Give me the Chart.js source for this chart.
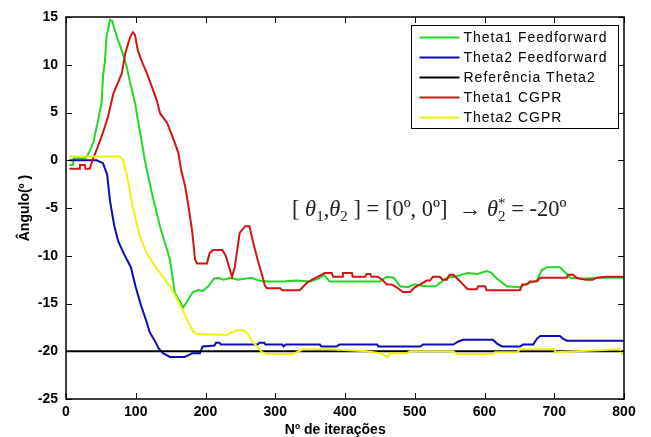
<!DOCTYPE html>
<html>
<head>
<meta charset="utf-8">
<script src="https://cdn.jsdelivr.net/npm/chart.js@4.4.0/dist/chart.umd.min.js"></script>
<style>
  html, body { margin: 0; padding: 0; background: #fff; }
  canvas { display: block; }
</style>
</head>
<body>
<canvas id="angleChart" width="651" height="437"></canvas>
<script>
// Theta1 Feedforward (green)
const theta1FfX = [5, 10, 11, 28, 33, 39, 46, 51, 53, 56, 58, 63, 66, 73, 80, 87, 92, 99, 103, 109, 113, 123, 135, 149, 156, 168, 175, 182, 190, 196, 204, 212, 218, 226, 236, 246, 256, 266, 276, 290, 310, 330, 350, 362, 370, 378, 400, 425, 450, 460, 470, 479, 490, 500, 515, 530, 546, 556, 566, 576, 590, 603, 610, 618, 632, 651, 658, 675, 682, 690, 708, 715, 723, 740, 760, 800];
const theta1FfY = [-0.5, -0.5, 0.2, 0.2, 0.8, 1.8, 4.2, 6.0, 8.7, 10.5, 12.9, 14.7, 14.6, 12.9, 11.5, 9.8, 8.1, 6.0, 4.2, 1.8, 0, -3.4, -7.0, -10.4, -13.9, -15.4, -14.6, -13.8, -13.6, -13.7, -13.2, -12.4, -12.3, -12.5, -12.3, -12.5, -12.4, -12.3, -12.6, -12.7, -12.7, -12.6, -12.7, -12.4, -12.0, -12.7, -12.7, -12.7, -12.7, -12.2, -12.3, -13.2, -13.3, -13.0, -13.2, -13.2, -12.3, -12.2, -12.0, -11.8, -11.9, -11.6, -11.8, -12.4, -13.2, -13.3, -13.0, -12.6, -11.5, -11.2, -11.2, -11.7, -12.3, -12.4, -12.3, -12.3];

// Theta2 Feedforward (blue)
const theta2FfX = [5, 44, 53, 59, 63, 69, 75, 83, 93, 100, 108, 115, 120, 128, 133, 139, 149, 170, 176, 181, 192, 196, 213, 215, 220, 222, 275, 277, 284, 286, 310, 312, 315, 364, 366, 388, 392, 446, 448, 508, 512, 555, 562, 569, 612, 618, 625, 651, 655, 670, 675, 680, 708, 713, 718, 800];
const theta2FfY = [0, 0, -0.3, -1.5, -4.2, -6.8, -8.5, -9.8, -11.2, -13.3, -15.3, -16.8, -18.0, -19.0, -19.7, -20.2, -20.6, -20.6, -20.4, -20.2, -20.2, -19.5, -19.4, -19.1, -19.1, -19.3, -19.3, -19.1, -19.1, -19.3, -19.3, -19.5, -19.3, -19.3, -19.5, -19.5, -19.3, -19.3, -19.5, -19.5, -19.3, -19.3, -19.0, -18.8, -18.8, -19.2, -19.5, -19.5, -19.3, -19.3, -18.7, -18.4, -18.4, -18.7, -18.9, -18.9];

// Referencia Theta2 (black)
const refX = [0, 800];
const refY = [-20, -20];

// Theta1 CGPR (red)
const theta1CgX = [5, 19, 20, 27, 28, 34, 38, 44, 53, 60, 68, 75, 80, 85, 92, 96, 99, 103, 109, 116, 123, 130, 135, 145, 153, 161, 165, 171, 176, 181, 185, 188, 202, 206, 211, 224, 229, 238, 242, 249, 257, 263, 268, 275, 281, 285, 288, 307, 310, 335, 346, 353, 366, 371, 381, 383, 396, 397, 410, 411, 429, 431, 436, 438, 447, 453, 460, 467, 474, 483, 493, 500, 508, 517, 522, 526, 536, 540, 546, 550, 555, 560, 569, 576, 589, 591, 601, 603, 651, 654, 661, 665, 675, 680, 718, 720, 727, 732, 745, 755, 761, 775, 800];
const theta1CgY = [-0.9, -0.9, -0.5, -0.5, -0.9, -0.9, 0, 1.1, 2.9, 4.5, 7.0, 8.2, 9.1, 11.2, 12.9, 13.4, 13.1, 11.5, 10.3, 9.1, 7.7, 6.3, 4.9, 3.9, 2.4, 0.8, -1.0, -2.8, -5.0, -7.5, -10.4, -10.8, -10.8, -9.7, -9.4, -9.4, -10.0, -12.2, -11.2, -7.6, -6.9, -6.9, -8.5, -10.5, -12.0, -13.1, -13.4, -13.4, -13.6, -13.6, -12.8, -12.5, -12.0, -11.8, -11.8, -12.2, -12.2, -11.8, -11.8, -12.2, -12.2, -11.9, -11.9, -12.2, -12.2, -12.5, -13.0, -13.0, -13.3, -13.8, -13.8, -13.3, -13.0, -12.6, -12.6, -12.2, -12.2, -12.5, -12.5, -12.0, -12.0, -12.3, -13.0, -13.5, -13.5, -13.2, -13.2, -13.6, -13.6, -13.0, -13.0, -12.7, -12.7, -12.3, -12.3, -12.0, -12.0, -12.3, -12.5, -12.5, -12.3, -12.2, -12.2];

// Theta2 CGPR (yellow)
const theta2CgX = [5, 77, 82, 87, 96, 106, 116, 125, 135, 149, 159, 168, 175, 182, 188, 231, 235, 245, 254, 260, 267, 274, 281, 288, 325, 331, 340, 378, 431, 450, 462, 464, 489, 493, 555, 560, 612, 615, 647, 651, 700, 702, 794, 797, 800];
const theta2CgY = [0.4, 0.4, 0, -1.5, -5.0, -8.0, -9.8, -10.8, -11.8, -13.2, -14.5, -15.8, -16.9, -17.9, -18.2, -18.3, -18.1, -17.8, -17.8, -18.1, -19.0, -19.5, -20.1, -20.3, -20.3, -20.1, -19.8, -19.8, -20.0, -20.2, -20.6, -20.2, -20.2, -20.0, -20.0, -20.3, -20.3, -20.1, -20.1, -19.8, -19.8, -20.1, -19.8, -20.3, -20.3];

const seriesLabels = ['Theta1 Feedforward', 'Theta2 Feedforward', 'Referência Theta2', 'Theta1 CGPR', 'Theta2 CGPR'];
const seriesColors = ['#22d822', '#0c0cb4', '#000000', '#d21414', '#f0f010'];
const seriesX = [theta1FfX, theta2FfX, refX, theta1CgX, theta2CgX];
const seriesY = [theta1FfY, theta2FfY, refY, theta1CgY, theta2CgY];

function toPoints(xs, ys) {
    return xs.map((x, i) => ({ x: x, y: ys[i] }));
}

// box around the plot area + inward ticks on all four sides (matlab style)
const framePlugin = {
    id: 'frame',
    afterDatasetsDraw(chart) {
        const { ctx, chartArea: a, scales } = chart;
        ctx.save();
        ctx.strokeStyle = '#000';
        ctx.lineWidth = 1;
        ctx.beginPath();
        scales.x.ticks.forEach(t => {
            const px = Math.round(scales.x.getPixelForValue(t.value)) + 0.5;
            ctx.moveTo(px, a.bottom); ctx.lineTo(px, a.bottom - 6);
            ctx.moveTo(px, a.top); ctx.lineTo(px, a.top + 6);
        });
        scales.y.ticks.forEach(t => {
            const py = Math.round(scales.y.getPixelForValue(t.value)) + 0.5;
            ctx.moveTo(a.left, py); ctx.lineTo(a.left + 6, py);
            ctx.moveTo(a.right, py); ctx.lineTo(a.right - 6, py);
        });
        ctx.stroke();
        ctx.lineWidth = 1.5;
        ctx.strokeRect(a.left, a.top, a.right - a.left, a.bottom - a.top);
        ctx.restore();
    }
};

// legend box drawn inside the plot, top right
const legendPlugin = {
    id: 'boxLegend',
    afterDraw(chart) {
        const { ctx, chartArea: a } = chart;
        const boxW = 207, boxH = 103;
        const left = a.right - 6 - boxW + 0.5;
        const top = a.top + 8 + 0.5;
        ctx.save();
        ctx.fillStyle = '#fff';
        ctx.fillRect(left, top, boxW, boxH);
        ctx.strokeStyle = '#000';
        ctx.lineWidth = 1;
        ctx.strokeRect(left, top, boxW, boxH);
        ctx.font = '14px "Liberation Sans", Arial, sans-serif';
        ctx.letterSpacing = '1px';
        ctx.textBaseline = 'middle';
        chart.data.datasets.forEach((ds, i) => {
            const y = top + 12 + i * 20;
            ctx.strokeStyle = ds.borderColor;
            ctx.lineWidth = 2;
            ctx.beginPath();
            ctx.moveTo(left + 8, y);
            ctx.lineTo(left + 48, y);
            ctx.stroke();
            ctx.fillStyle = '#000';
            ctx.fillText(ds.label, left + 52, y + 1);
        });
        ctx.restore();
    }
};

// the formula written inside the plot
const noteRuns = [
    { t: '[ ' },
    { t: 'θ', it: true }, { t: '1', sub: true },
    { t: ',' },
    { t: 'θ', it: true }, { t: '2', sub: true },
    { t: ' ] = [0º, 0º]  → ' },
    { t: 'θ', it: true }, { t: '2', sub: true, sup: '*' },
    { t: ' = -20º' }
];
const notePlugin = {
    id: 'note',
    afterDraw(chart) {
        const { ctx, scales } = chart;
        let x = scales.x.getPixelForValue(324);
        const base = scales.y.getPixelForValue(-5.85);
        const fam = '"Liberation Serif", "Times New Roman", serif';
        ctx.save();
        ctx.fillStyle = '#222';
        ctx.textBaseline = 'alphabetic';
        noteRuns.forEach(r => {
            if (r.sub) {
                ctx.font = '15px ' + fam;
                ctx.fillText(r.t, x, base + 5);
                let w = ctx.measureText(r.t).width;
                if (r.sup) {
                    ctx.fillText(r.sup, x, base - 8);
                    w = Math.max(w, ctx.measureText(r.sup).width);
                }
                x += w;
            } else {
                ctx.font = (r.it ? 'italic ' : '') + '22.5px ' + fam;
                ctx.fillText(r.t, x, base);
                x += ctx.measureText(r.t).width;
            }
        });
        ctx.restore();
    }
};

const tickFont = { family: '"Liberation Sans", Arial, sans-serif', size: 14, weight: 'bold' };
const titleFont = { family: '"Liberation Sans", Arial, sans-serif', size: 14, weight: 'bold', lineHeight: 1 };

new Chart(document.getElementById('angleChart'), {
    type: 'line',
    data: {
        datasets: seriesLabels.map((label, i) => ({
            label: label,
            data: toPoints(seriesX[i], seriesY[i]),
            borderColor: seriesColors[i],
            backgroundColor: seriesColors[i],
            borderWidth: 2,
            pointRadius: 0,
            tension: 0,
            fill: false,
            order: seriesLabels.length - i
        }))
    },
    options: {
        responsive: false,
        animation: false,
        devicePixelRatio: 1,
        layout: { padding: { top: 17, right: 27, left: 0, bottom: 0 } },
        plugins: {
            legend: { display: false },
            tooltip: { enabled: false }
        },
        scales: {
            x: {
                type: 'linear',
                min: 0,
                max: 800,
                grid: { display: false, drawTicks: false },
                border: { display: false },
                ticks: { stepSize: 100, color: '#000', font: tickFont, padding: 5, maxRotation: 0 },
                title: { display: true, text: 'Nº de iterações     ', color: '#000', font: titleFont, padding: 0 },
                afterFit(scale) { scale.height = 38; }
            },
            y: {
                type: 'linear',
                min: -25,
                max: 15,
                grid: { display: false, drawTicks: false },
                border: { display: false },
                ticks: { stepSize: 5, color: '#000', font: tickFont, padding: 8 },
                title: { display: true, text: 'Ângulo(º )', color: '#000', font: titleFont, padding: { top: 18, bottom: 0 } },
                afterFit(scale) { scale.width = 66; }
            }
        }
    },
    plugins: [framePlugin, legendPlugin, notePlugin]
});
</script>
</body>
</html>
